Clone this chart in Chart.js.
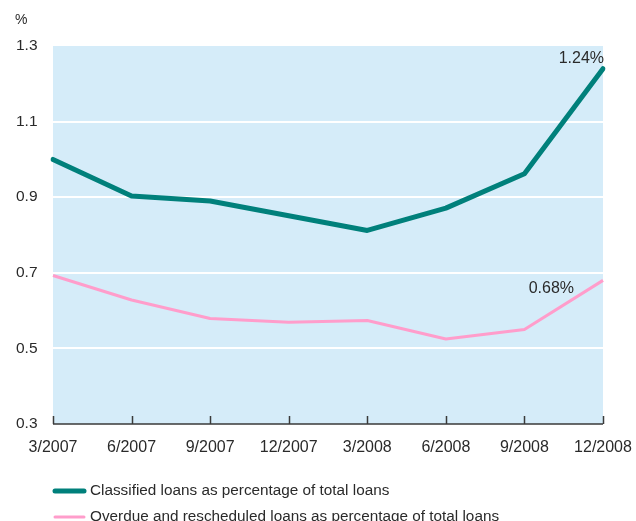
<!DOCTYPE html>
<html>
<head>
<meta charset="utf-8">
<script src="https://cdn.jsdelivr.net/npm/chart.js@4/dist/chart.umd.min.js"></script>
<style>
  html, body { margin: 0; padding: 0; background: #fff; }
  #wrap { width: 636px; height: 521px; position: relative; }
</style>
</head>
<body>
<div id="wrap"><canvas id="loans"></canvas></div>
<script>
// Quarter-end dates
const quarters = ['3/2007', '6/2007', '9/2007', '12/2007', '3/2008', '6/2008', '9/2008', '12/2008'];

// Loan quality ratios, % of total loans
const classifiedPct = [1.00, 0.903, 0.89, 0.851, 0.812, 0.871, 0.962, 1.24];
const overduePct = [0.693, 0.628, 0.579, 0.569, 0.574, 0.525, 0.55, 0.68];

const seriesNames = [
  'Classified loans as percentage of total loans',
  'Overdue and rescheduled loans as percentage of total loans'
];

const yTicks = [0.3, 0.5, 0.7, 0.9, 1.1, 1.3];

const TEAL = '#00807b';
const PINK = '#ff9dcb';
const PLOT_BG = '#d5ecf9';
const INK = '#2a2a2a';
const FONT = '"Liberation Sans", Arial, Helvetica, sans-serif';

// plot background, inward x ticks, unit label, end-point labels, legend
const decorations = {
  id: 'decorations',
  beforeDatasetsDraw(chart) {
    const { ctx, chartArea: a } = chart;
    ctx.save();
    ctx.fillStyle = PLOT_BG;
    ctx.fillRect(a.left, a.top, a.right - a.left, a.bottom - a.top);
    // white grid lines between top and bottom
    const y = chart.scales.y;
    ctx.strokeStyle = '#ffffff';
    ctx.lineWidth = 2;
    yTicks.slice(1, -1).forEach(v => {
      const py = Math.round(y.getPixelForValue(v));
      ctx.beginPath();
      ctx.moveTo(a.left, py);
      ctx.lineTo(a.right, py);
      ctx.stroke();
    });
    ctx.restore();
  },
  afterDraw(chart) {
    const { ctx, chartArea: a } = chart;
    const x = chart.scales.x;
    ctx.save();

    // x axis line and ticks pointing up into the plot
    ctx.strokeStyle = '#3a3a3a';
    ctx.lineWidth = 1.5;
    ctx.beginPath();
    ctx.moveTo(a.left, a.bottom);
    ctx.lineTo(a.right, a.bottom);
    quarters.forEach((q, i) => {
      const px = Math.round(x.getPixelForTick(i)) + 0.5;
      ctx.moveTo(px, a.bottom);
      ctx.lineTo(px, a.bottom - 8);
    });
    ctx.stroke();

    ctx.fillStyle = INK;
    ctx.font = '14px ' + FONT;
    ctx.textAlign = 'left';
    ctx.textBaseline = 'middle';
    ctx.fillText('%', 15, 20);

    // values at the last quarter
    const last = quarters.length - 1;
    const p0 = chart.getDatasetMeta(0).data[last];
    const p1 = chart.getDatasetMeta(1).data[last];
    ctx.font = '16px ' + FONT;
    ctx.textAlign = 'right';
    ctx.textBaseline = 'middle';
    ctx.fillText(classifiedPct[last].toFixed(2) + '%', a.right + 1, p0.y - 10);
    ctx.fillText(overduePct[last].toFixed(2) + '%', p1.x - 29, p1.y + 8);

    // legend
    const items = [
      { color: TEAL, width: 5, y: 491 },
      { color: PINK, width: 3, y: 517 }
    ];
    ctx.font = '15.3px ' + FONT;
    ctx.textAlign = 'left';
    ctx.lineCap = 'round';
    items.forEach((it, i) => {
      ctx.strokeStyle = it.color;
      ctx.lineWidth = it.width;
      ctx.beginPath();
      ctx.moveTo(55, it.y);
      ctx.lineTo(84, it.y);
      ctx.stroke();
      ctx.fillText(seriesNames[i], 90, it.y);
    });
    ctx.restore();
  }
};

new Chart(document.getElementById('loans'), {
  type: 'line',
  data: {
    labels: quarters,
    datasets: [
      {
        label: seriesNames[0],
        data: classifiedPct,
        borderColor: TEAL,
        borderWidth: 5,
        pointRadius: 0,
        borderJoinStyle: 'round',
        borderCapStyle: 'round',
        tension: 0
      },
      {
        label: seriesNames[1],
        data: overduePct,
        borderColor: PINK,
        borderWidth: 3,
        pointRadius: 0,
        borderJoinStyle: 'round',
        tension: 0
      }
    ]
  },
  options: {
    responsive: true,
    maintainAspectRatio: false,
    animation: false,
    layout: { padding: { left: 16, top: 46, right: 33, bottom: 0 } },
    plugins: {
      legend: { display: false },
      tooltip: { enabled: false }
    },
    scales: {
      x: {
        offset: false,
        grid: { display: false },
        border: { display: false },
        ticks: {
          color: INK,
          font: { family: FONT, size: 16 },
          padding: 6,
          maxRotation: 0,
          autoSkip: false
        },
        afterFit(scale) {
          scale.height = 97;
          // edge labels may hang past the plot; keep the plot width fixed
          scale.paddingLeft = 0;
          scale.paddingRight = 0;
        }
      },
      y: {
        min: 0.3,
        max: 1.3,
        afterBuildTicks(scale) { scale.ticks = yTicks.map(v => ({ value: v })); },
        grid: { display: false },
        border: { display: false },
        ticks: {
          color: INK,
          font: { family: FONT, size: 15.5 },
          crossAlign: 'far',
          padding: 0,
          callback: v => v.toFixed(1)
        },
        afterFit(scale) { scale.width = 37; }
      }
    }
  },
  plugins: [decorations]
});
</script>
</body>
</html>
